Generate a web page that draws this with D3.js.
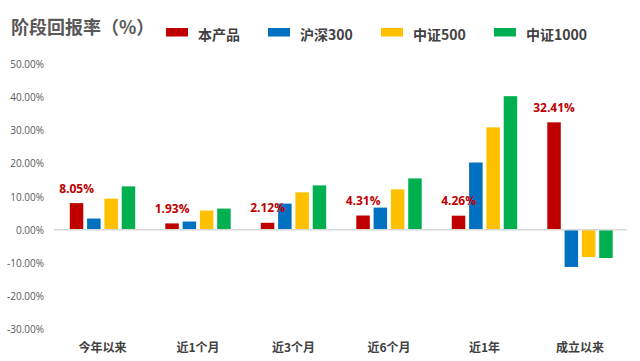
<!DOCTYPE html>
<html><head><meta charset="utf-8">
<script src="https://cdn.jsdelivr.net/npm/d3@7/dist/d3.min.js"></script>
<style>
body{margin:0;background:#fff;}
svg{display:block;}
</style></head>
<body><svg id="chart" width="640" height="361"></svg>
<script>
const categories = ["今年以来","近1个月","近3个月","近6个月","近1年","成立以来"];
const seriesNames = ["本产品","沪深300","中证500","中证1000"];
const product = [8.05, 1.93, 2.12, 4.31, 4.26, 32.41];
const hs300 = [3.4, 2.5, 7.9, 6.7, 20.3, -11.2];
const zz500 = [9.4, 5.8, 11.3, 12.2, 30.9, -8.2];
const zz1000 = [13.1, 6.4, 13.4, 15.5, 40.3, -8.5];
const yTicks = [-30,-20,-10,0,10,20,30,40,50];
const colors = ["#C00000","#0070C0","#FFC000","#00B050"];
const seriesValues = [product, hs300, zz500, zz1000];

const svg = d3.select("#chart");
const fontCJK = "'Noto Sans CJK SC','Noto Sans',sans-serif";

const x0 = d3.scaleBand().domain(categories).range([54.75, 627.75]).paddingInner(0.315).paddingOuter(0.1575);
const x1 = d3.scaleBand().domain(seriesNames).range([0, x0.bandwidth()]).paddingInner(0.22).paddingOuter(0);
const y = d3.scaleLinear().domain([-30, 50]).range([329.3, 64]);

// title
svg.append("text").attr("x", 11).attr("y", 26).attr("dominant-baseline","central")
  .attr("font-family", fontCJK).attr("font-size", 18).attr("font-weight","bold")
  .attr("fill","#595959").text("阶段回报率（%）");

// legend
const legendX = [166, 268, 381, 494];
seriesNames.forEach((s,i)=>{
  const g = svg.append("g").attr("transform", `translate(${legendX[i]},0)`);
  g.append("rect").attr("x",0).attr("y",28).attr("width",22).attr("height",8.5).attr("fill",colors[i]);
  g.append("text").attr("x",32).attr("y",33.5).attr("dominant-baseline","central")
   .attr("font-family",fontCJK).attr("font-size",14).attr("font-weight","bold")
   .attr("fill","#404040").text(s);
});

// y tick labels
svg.append("g").selectAll("text").data(yTicks).join("text")
  .attr("x", 44).attr("y", d=>y(d)).attr("dominant-baseline","central").attr("text-anchor","end")
  .attr("font-family","'Open Sans','Noto Sans',sans-serif").attr("font-size",10).attr("fill","#595959")
  .text(d=>d.toFixed(2)+"%");

// bars
const groups = svg.append("g").selectAll("g").data(categories).join("g")
  .attr("transform", d=>`translate(${x0(d)},0)`);
groups.selectAll("rect").data((c,ci)=>seriesNames.map((s,si)=>({s, v: seriesValues[si][ci], si})))
  .join("rect")
  .attr("x", d=>x1(d.s)).attr("width", x1.bandwidth())
  .attr("y", d=>y(Math.max(0,d.v))).attr("height", d=>Math.abs(y(d.v)-y(0)))
  .attr("fill", d=>colors[d.si]);

// zero line
svg.append("line").attr("x1",54).attr("x2",627).attr("y1",y(0)).attr("y2",y(0))
  .attr("stroke","#d9d9d9").attr("stroke-width",1.5);

// data labels for product
svg.append("g").selectAll("text").data(categories).join("text")
  .attr("x", (c)=>x0(c)+x1(seriesNames[0])+x1.bandwidth()/2)
  .attr("y", (c,i)=>y(product[i])-15)
  .attr("text-anchor","middle").attr("dominant-baseline","central")
  .attr("font-family","'Open Sans','Noto Sans',sans-serif").attr("font-size",12).attr("font-weight","bold")
  .attr("fill","#C00000")
  .text((c,i)=>product[i].toFixed(2)+"%");

// category labels
svg.append("g").selectAll("text").data(categories).join("text")
  .attr("x", c=>x0(c)+x0.bandwidth()/2).attr("y", 346)
  .attr("text-anchor","middle").attr("dominant-baseline","central")
  .attr("font-family",fontCJK).attr("font-size",12).attr("font-weight","bold")
  .attr("fill","#404040").text(c=>c);
</script></body></html>
